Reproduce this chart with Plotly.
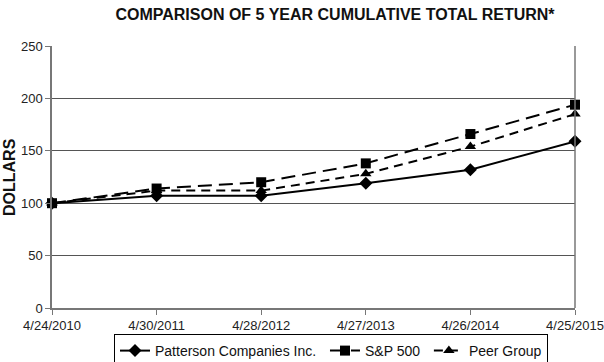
import plotly.graph_objects as go

dates = ["4/24/2010", "4/30/2011", "4/28/2012", "4/27/2013", "4/26/2014", "4/25/2015"]
patterson = [100, 107, 107, 119, 132, 159]
sp500 = [100, 114, 120, 138, 166, 194]
peer = [100, 112, 112, 128, 154, 185]

x = list(range(len(dates)))
FONT = "Liberation Sans, Arial, sans-serif"

fig = go.Figure()
fig.add_trace(go.Scatter(x=x, y=patterson, name="Patterson Companies Inc. ", mode="lines+markers",
                         line=dict(color="black", width=2, dash="solid"),
                         marker=dict(symbol="diamond", size=10, color="black"), cliponaxis=False))
fig.add_trace(go.Scatter(x=x, y=sp500, name="S&P 500 ", mode="lines+markers",
                         line=dict(color="black", width=2, dash="14px,7px"),
                         marker=dict(symbol="square", size=10, color="black"), cliponaxis=False))
fig.add_trace(go.Scatter(x=x, y=peer, name="Peer Group", mode="lines+markers",
                         line=dict(color="black", width=2, dash="9px,6px"),
                         marker=dict(symbol="triangle-up", size=10, color="black"), cliponaxis=False))

fig.update_layout(
    width=604, height=362,
    margin=dict(l=52, r=29, t=46, b=54, autoexpand=False),
    paper_bgcolor="white", plot_bgcolor="white",
    font=dict(family=FONT, size=13, color="#222"),
    title=dict(text="<b>COMPARISON OF 5 YEAR CUMULATIVE TOTAL RETURN*</b>",
               x=335 / 604, xanchor="center", y=1 - 14 / 362, yanchor="middle",
               font=dict(family=FONT, size=16, color="#111")),
    showlegend=True,
    legend=dict(orientation="h", x=(331 - 52) / 523, xanchor="center", y=-26 / 262, yanchor="top",
                bordercolor="black", borderwidth=1, bgcolor="white",
                font=dict(family=FONT, size=14, color="#111"), itemwidth=30, tracegroupgap=0),
    xaxis=dict(range=[0, 5], tickvals=x, ticktext=dates, showgrid=False, automargin=False,
               showline=True, linecolor="#777", linewidth=1.5, mirror=False,
               ticks="outside", ticklen=5, tickcolor="#777", zeroline=False,
               tickfont=dict(family=FONT, size=13, color="#222")),
    yaxis=dict(range=[0, 250], tickvals=[0, 50, 100, 150, 200, 250], showgrid=True, automargin=False,
               gridcolor="#555", gridwidth=1, showline=True, linecolor="#777", linewidth=1.5,
               ticks="outside", ticklen=5, tickcolor="#777", zeroline=False,
               tickfont=dict(family=FONT, size=13, color="#222")),
    annotations=[dict(text="<b>DOLLARS</b>", xref="paper", yref="paper", x=-43 / 523, y=0.5,
                      xanchor="center", yanchor="middle", textangle=-90, showarrow=False,
                      font=dict(family=FONT, size=16, color="#111"))],
)
fig.add_shape(type="line", xref="paper", yref="paper", x0=1, x1=1, y0=0, y1=1,
              line=dict(color="#777", width=1.5))

fig.write_html("out.html", config={"displayModeBar": False},
               post_script="document.body.style.margin='0';document.body.style.overflow='hidden';")
